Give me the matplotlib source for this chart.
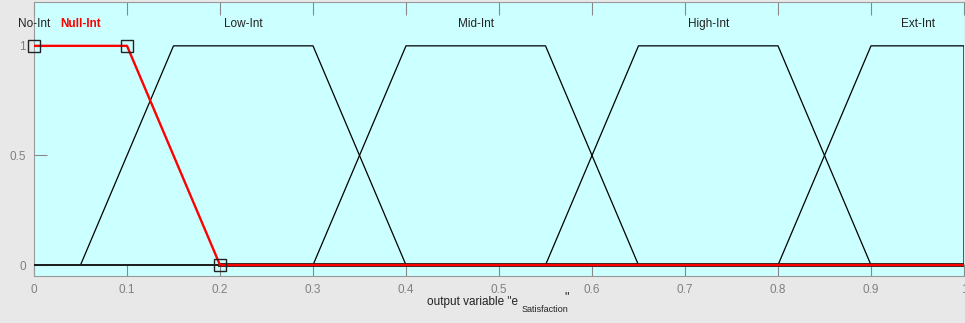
import numpy as np
import matplotlib
matplotlib.use('Agg')
import matplotlib.pyplot as plt

plt.rcParams['font.family'] = ['Liberation Sans', 'DejaVu Sans']

# trapezoid membership functions of the output variable: [a, b, c, d]
mf_names = ['No-Int', 'Null-Int', 'Low-Int', 'Mid-Int', 'High-Int', 'Ext-Int']
mf_params = [[0, 0, 0, 0],
             [0, 0, 0.1, 0.2],
             [0.05, 0.15, 0.3, 0.4],
             [0.3, 0.4, 0.55, 0.65],
             [0.55, 0.65, 0.8, 0.9],
             [0.8, 0.9, 1.0, 1.0]]
label_x = [0.0, 0.05, 0.225, 0.475, 0.725, 0.95]
selected = 1   # Null-Int is highlighted

xticks = [0, 0.1, 0.2, 0.3, 0.4, 0.5, 0.6, 0.7, 0.8, 0.9, 1]
xticklabels = ['0', '0.1', '0.2', '0.3', '0.4', '0.5', '0.6', '0.7', '0.8', '0.9', '1']
yticks = [0, 0.5, 1]
yticklabels = ['0', '0.5', '1']

def trap_points(p):
    a, b, c, d = p
    xs = [0, a, b, c, d, 1]
    ys = [0, 0, 1, 1, 0, 0]
    if a == b == 0:
        xs, ys = [0, c, d, 1], [1, 1, 0, 0]
    return xs, ys

W, H = 965, 323
fig = plt.figure(figsize=(W/100, H/100), dpi=100, facecolor='#E8E8E8')
ax = fig.add_axes([34/W, 47/H, 930/W, 274/H])
ax.set_facecolor('#CCFFFF')

for i, p in enumerate(mf_params):
    if i == 0 or i == selected:
        continue
    xs, ys = trap_points(p)
    ax.plot(xs, ys, color='black', lw=0.9, zorder=3)

# zero line, with a darker rim under the highlighted function
ax.plot([0, 1], [0, 0], color='#222222', lw=1.3, zorder=3)
a, b, c, d = mf_params[selected]
ax.plot([d, 1], [0, 0], color='#222222', lw=2.8, zorder=3)
xs, ys = trap_points(mf_params[selected])
ax.plot(xs, ys, color='red', lw=1.7, zorder=4)
ax.plot([a, c, d], [1, 1, 0], ls='none', marker='s', ms=8, mfc='none',
        mec='#222222', mew=1.0, zorder=5, clip_on=False)

for i, name in enumerate(mf_names):
    if i == selected:
        ax.text(label_x[i], 1.1, name, color='red', fontsize=8.5, fontweight='bold',
                ha='center', va='center', zorder=6)
    else:
        ax.text(label_x[i], 1.1, name, color='#222222', fontsize=8.5,
                ha='center', va='center', zorder=6, clip_on=False)

ax.set_xlim(0, 1)
ax.set_ylim(-0.05, 1.2)
ax.set_xticks(xticks)
ax.set_xticklabels(xticklabels)
ax.set_yticks(yticks)
ax.set_yticklabels(yticklabels)
ax.tick_params(direction='in', length=9, color='#888888', labelcolor='#808080',
               labelsize=8.5, top=True, right=False, pad=6)
for s in ['left', 'bottom', 'top']:
    ax.spines[s].set_color('#999999')
ax.spines['right'].set_visible(False)

# x label: e with a subscript, then a raised closing quote
fig.text(518/W, 1 - 302/H, 'output variable "e', fontsize=8.5, color='#222222',
         ha='right', va='center')
fig.text(522/W, 1 - 309/H, 'Satisfaction', fontsize=6.5, color='#222222',
         ha='left', va='center')
fig.text(564/W, 1 - 297/H, '"', fontsize=9, color='#222222', ha='left', va='center')

fig.savefig('out.png', dpi=100, facecolor=fig.get_facecolor())
